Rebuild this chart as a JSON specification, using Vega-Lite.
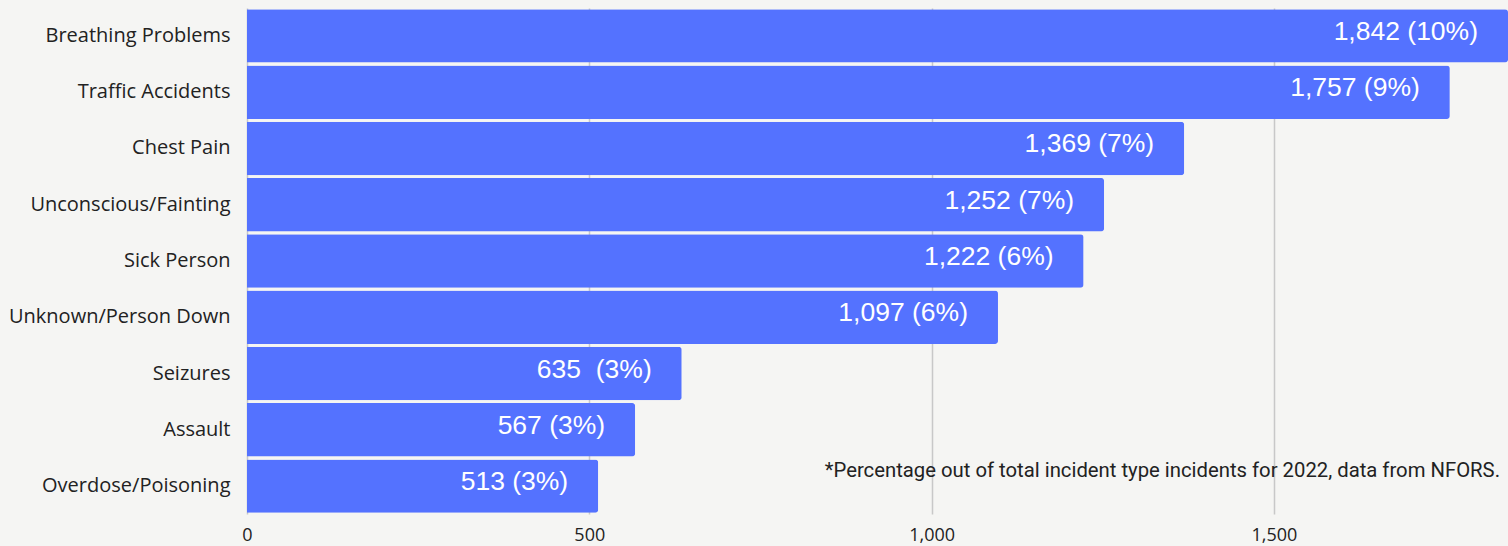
{
  "$schema": "https://vega.github.io/schema/vega-lite/v6.json",
  "width": 1261,
  "height": 506,
  "padding": {"left": 0, "top": 8, "right": 0, "bottom": 0},
  "background": "#f5f5f3",
  "config": {"view": {"stroke": null}},
  "data": {
    "values": [
      {"type": "Breathing Problems", "count": 1842, "label": "1,842 (10%)"},
      {"type": "Traffic Accidents", "count": 1757, "label": "1,757 (9%)"},
      {"type": "Chest Pain", "count": 1369, "label": "1,369 (7%)"},
      {"type": "Unconscious/Fainting", "count": 1252, "label": "1,252 (7%)"},
      {"type": "Sick Person", "count": 1222, "label": "1,222 (6%)"},
      {"type": "Unknown/Person Down", "count": 1097, "label": "1,097 (6%)"},
      {"type": "Seizures", "count": 635, "label": "635\u00a0 (3%)"},
      {"type": "Assault", "count": 567, "label": "567 (3%)"},
      {"type": "Overdose/Poisoning", "count": 513, "label": "513 (3%)"}
    ]
  },
  "layer": [
    {
      "mark": {"type": "bar", "color": "#5472ff", "cornerRadiusEnd": 3},
      "encoding": {
        "y": {
          "field": "type",
          "type": "nominal",
          "sort": null,
          "scale": {"paddingInner": 0.05, "paddingOuter": 0.02},
          "axis": {
            "title": null,
            "ticks": false,
            "domain": false,
            "labelPadding": 17,
            "labelLimit": 400,
            "labelFont": "Open Sans",
            "labelFontSize": 20,
            "labelColor": "#222222",
            "minExtent": 247,
            "maxExtent": 247
          }
        },
        "x": {
          "field": "count",
          "type": "quantitative",
          "scale": {"domain": [0, 1842], "nice": false},
          "axis": {
            "title": null,
            "values": [0, 500, 1000, 1500],
            "format": ",d",
            "ticks": false,
            "domain": false,
            "grid": true,
            "gridColor": "#c8c8c8",
            "gridWidth": 1.5,
            "labelFont": "Open Sans",
            "labelFontSize": 18,
            "labelColor": "#222222",
            "labelPadding": 12,
            "labelFlush": false,
            "minExtent": 32,
            "maxExtent": 32
          }
        }
      }
    },
    {
      "mark": {
        "type": "text",
        "align": "right",
        "baseline": "middle",
        "dx": -30,
        "dy": -4,
        "font": "Liberation Sans",
        "fontSize": 26.5,
        "color": "#ffffff"
      },
      "encoding": {
        "y": {"field": "type", "type": "nominal", "sort": null},
        "x": {"field": "count", "type": "quantitative"},
        "text": {"field": "label"}
      }
    },
    {
      "mark": {
        "type": "text",
        "align": "right",
        "baseline": "middle",
        "dx": -8,
        "dy": -15,
        "font": "Roboto",
        "fontSize": 20.3,
        "color": "#222222"
      },
      "encoding": {
        "y": {"field": "type", "type": "nominal", "sort": null},
        "x": {"datum": 1842},
        "text": {"value": "*Percentage out of total incident type incidents for 2022, data from NFORS."}
      },
      "transform": [{"filter": "datum.type === 'Overdose/Poisoning'"}]
    }
  ]
}
